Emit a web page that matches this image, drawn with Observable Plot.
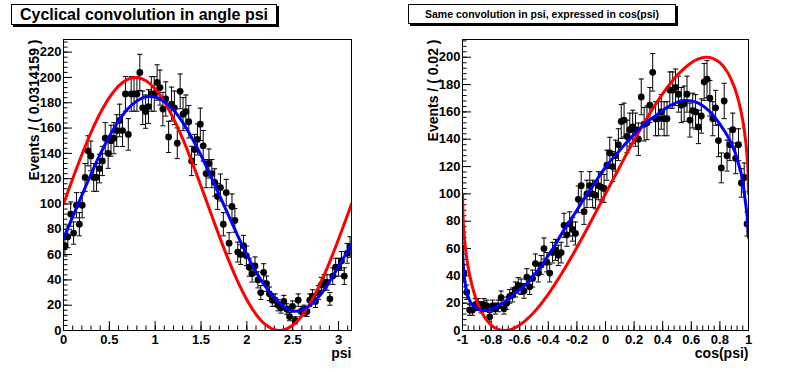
<!DOCTYPE html>
<html><head><meta charset="utf-8">
<script src="https://cdn.jsdelivr.net/npm/d3@7"></script>
<script src="https://cdn.jsdelivr.net/npm/@observablehq/plot@0.6"></script>
<style>
body{margin:0;background:#fff;width:796px;height:372px;position:relative;overflow:hidden;font-family:"Liberation Sans",Arial,sans-serif;}
.panel{position:absolute;top:0;}
.title{position:absolute;border:1px solid #000;box-shadow:2px 2px 0 #000;background:#fff;font-weight:bold;display:flex;align-items:center;justify-content:center;box-sizing:border-box;white-space:nowrap;}
</style></head><body>
<div id="left" class="panel" style="left:0"></div>
<div id="right" class="panel" style="left:398px"></div>
<div class="title" style="left:11px;top:4px;width:266px;height:21px;font-size:16px">Cyclical convolution in angle psi</div>
<div class="title" style="left:408px;top:4px;width:268px;height:20px;font-size:10.5px">Same convolution in psi, expressed in cos(psi)</div>
<script>
// ---- data: histogram counts (100 bins each) ----
const psiCounts = [67,74,92,77,99,84,99,121,142,138,121,121,128,134,152,140,150,152,158,166,
158,187,155,187,187,187,204,176,173,177,187,187,196,192,175,183,153,179,176,148,
189,171,173,165,134,143,151,163,146,124,132,124,117,106,113,84,109,69,98,87,
62,60,67,59,50,45,51,40,30,46,37,29,24,24,20,18,23,17,11,19,
8,24,15,16,15,24,27,23,30,36,38,38,25,43,50,50,55,43,61,66];
const cosCounts = [42,28,15,15,19,19,17,19,18,10,18,16,18,24,16,20,25,26,30,33,
32,29,39,32,38,49,42,48,60,50,42,57,59,55,57,77,70,78,74,71,
96,106,87,100,106,100,99,106,105,104,121,130,120,128,136,153,154,142,147,149,
147,140,171,151,152,165,189,155,155,160,155,155,176,176,178,173,165,166,173,154,
161,160,149,157,182,184,170,155,163,139,119,168,128,136,147,126,136,108,112,78];

// ---- curves ----
const psiCurveX = [0,0.1,0.2,0.3,0.4,0.5,0.6,0.7,0.8,0.9,1.0,1.1,1.2,1.3,1.4,1.5,1.6,1.7,1.8,1.9,2.0,2.1,2.2,2.3,2.4,2.5,2.6,2.7,2.8,2.9,3.0,3.1,3.14159];
const psiRed = [100,119.9,138.9,156.5,171.7,184.1,193.2,198.5,200,197.4,190.9,180.9,167.5,151.6,133.5,114.1,94.2,74.4,55.8,38.8,24.3,12.8,4.8,0.6,0.4,4.1,11.6,22.7,36.9,53.5,72.1,91.7,100];
const psiBlue = [73,89.8,106.8,123.5,139.3,153.4,165.5,175,181.4,184.7,184.5,180.9,174.2,164.5,152.3,138.5,123,107,91,75,60,46.5,35,26,19,15.5,16,20.5,28,38.5,50.5,63,68];

const cosRedX = [-1,-0.995,-0.99,-0.98,-0.96,-0.94,-0.92,-0.9,-0.85,-0.8,-0.75,-0.7,-0.65,-0.6,-0.5,-0.4,-0.3,-0.2,-0.1,0,0.1,0.2,0.3,0.4,0.5,0.6,0.65,0.7,0.75,0.8,0.85,0.9,0.92,0.94,0.96,0.98,0.99,0.995,1];
const cosRed = [100,80.1,72.1,61,46.2,35.9,27.9,21.5,10.4,4,0.8,0.02,1.2,4,13.4,26.7,42.8,60.8,80.1,100,119.9,139.2,157.2,173.3,186.6,196,198.8,200,199.2,196,189.6,178.5,172.1,164.1,153.8,139,127.9,119.9,100];
const cosBlueX = [-1,-0.995,-0.985,-0.97,-0.94,-0.9,-0.85,-0.8,-0.75,-0.7,-0.65,-0.6,-0.55,-0.5,-0.45,-0.4,-0.35,-0.3,-0.25,-0.2,-0.15,-0.1,-0.05,0,0.05,0.1,0.15,0.2,0.25,0.3,0.35,0.4,0.45,0.5,0.55,0.6,0.65,0.7,0.75,0.8,0.85,0.9,0.93,0.955,0.975,0.99,1];
const cosBlue = [62,48,37,28,20,16,14.6,15.3,18,21.5,25.8,30.2,34.5,40.5,47,55,63,72,80,88,96.5,104,112,119.5,126,132,138,143.5,148.8,153.5,157,161,164.5,167,168.3,168,166.5,163,158,151,143,132,122,112,97,84,68];

// ---- tick values ----
const psiMajor = [0,0.5,1,1.5,2,2.5,3];
const psiMinor = d3.range(0,3.15,0.1);
const cosMajor = d3.range(-1,1.001,0.2).map(v=>+v.toFixed(2));
const cosMinor = d3.range(-1,1.001,0.04).map(v=>+v.toFixed(2));
const leftYMajor = d3.range(0,221,20);
const leftYMinor = d3.range(0,229,4);
const rightYMajor = d3.range(0,201,20);
const rightYMinor = d3.range(0,213,4);

const capSymbol = {draw(ctx){ ctx.moveTo(-2.6,0); ctx.lineTo(2.6,0); }};

function panel(o){
  const W=398,H=372,mt=39,mb=42;
  const iw=W-o.ml-o.mr, ih=H-mt-mb;
  const bins = o.counts.map((v,i)=>({x:o.centers[i], y:v, lo:v-Math.sqrt(v), hi:v+Math.sqrt(v)}));
  const caps = bins.flatMap(d=>[{x:d.x,y:d.lo},{x:d.x,y:d.hi}]);
  const red = o.redX.map((x,i)=>({x,y:o.redY[i]}));
  const blue = o.blueX.map((x,i)=>({x,y:o.blueY[i]}));
  return Plot.plot({
    width:W,height:H,marginLeft:o.ml,marginRight:o.mr,marginTop:mt,marginBottom:mb,
    style:{fontFamily:"'Liberation Sans',Arial,sans-serif",fontSize:"13px",fontWeight:"bold",background:"white",overflow:"visible"},
    x:{domain:o.xDomain},
    y:{domain:[0,o.yMax]},
    marks:[
      Plot.tickX(o.xMinor,{x:d=>d,insetTop:ih-4.5,stroke:"black"}),
      Plot.tickX(o.xMajor,{x:d=>d,insetTop:ih-9,stroke:"black"}),
      Plot.tickY(o.yMinor,{y:d=>d,insetRight:iw-4.5,stroke:"black"}),
      Plot.tickY(o.yMajor,{y:d=>d,insetRight:iw-9,stroke:"black"}),
      Plot.axisX(o.xMajor,{tickSize:0,tickPadding:4,label:null,tickFormat:d=>String(d),fill:"black"}),
      Plot.axisY(o.yMajor,{tickSize:0,tickPadding:2,label:null,tickFormat:d=>String(d),fill:"black"}),
      Plot.ruleX(bins,{x:"x",y1:"lo",y2:"hi",stroke:"black",strokeWidth:1,clip:true}),
      Plot.dot(caps,{x:"x",y:"y",symbol:capSymbol,fill:"none",stroke:"black",strokeWidth:1,clip:true}),
      Plot.dot(bins,{x:"x",y:"y",r:3.4,fill:"black",stroke:"none",clip:true}),
      Plot.line(red,{x:"x",y:"y",stroke:"#ff0000",strokeWidth:3,curve:"catmull-rom",clip:true}),
      Plot.line(blue,{x:"x",y:"y",stroke:"#0000ff",strokeWidth:3,curve:"catmull-rom",clip:true}),
      Plot.frame({stroke:"black",strokeWidth:1}),
      Plot.text([o.yLabel],{frameAnchor:"top-left",rotate:-90,textAnchor:"end",dx:-34,fill:"black",fontSize:14,fontWeight:"bold"}),
      Plot.text([o.xLabel],{frameAnchor:"bottom-right",textAnchor:"end",dy:27,fill:"black",fontSize:14,fontWeight:"bold"})
    ]
  });
}

document.getElementById("left").appendChild(panel({
  counts:psiCounts, centers:d3.range(100).map(i=>(i+0.5)*Math.PI/100),
  ml:63, mr:47, xDomain:[0,Math.PI], yMax:230,
  xMajor:psiMajor, xMinor:psiMinor, yMajor:leftYMajor, yMinor:leftYMinor,
  redX:psiCurveX, redY:psiRed, blueX:psiCurveX, blueY:psiBlue,
  xLabel:"psi", yLabel:"Events / ( 0.0314159 )"
}));
document.getElementById("right").appendChild(panel({
  counts:cosCounts, centers:d3.range(100).map(i=>-1+(i+0.5)*0.02),
  ml:64, mr:48, xDomain:[-1,1], yMax:213,
  xMajor:cosMajor, xMinor:cosMinor, yMajor:rightYMajor, yMinor:rightYMinor,
  redX:cosRedX, redY:cosRed, blueX:cosBlueX, blueY:cosBlue,
  xLabel:"cos(psi)", yLabel:"Events / ( 0.02 )"
}));
</script>
</body></html>
